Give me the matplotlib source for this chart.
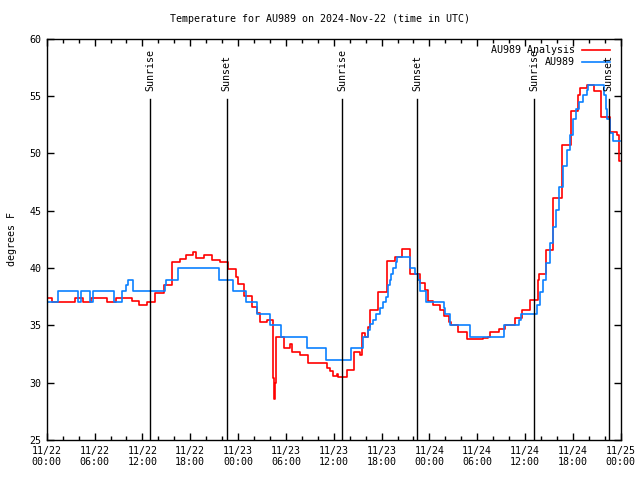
import matplotlib
matplotlib.use('Agg')
import matplotlib.pyplot as plt
from matplotlib.lines import Line2D

# hours since 2024-11-22 00:00 UTC
t_analysis = [0, 0.6, 3.6, 4.5, 5.5, 7.6, 8.7, 10.7, 11.6, 12.6,
              13.6, 14.7, 15.7, 16.7, 17.5, 18.4, 18.7, 19.7, 20.75, 21.7,
              22.75, 23.7, 24.0, 24.8, 25.7, 26.4, 26.7, 27.6, 28.4, 28.5,
              28.6, 28.7, 29.8, 30.5, 30.8, 31.8, 32.8, 35.1, 35.5, 35.9,
              36.35, 36.55, 37.6, 38.6, 39.3, 39.6, 39.9, 40.3, 40.6, 41.55,
              42.7, 43.7, 44.6, 45.6, 46.8, 47.4, 47.8, 48.5, 49.3, 49.8,
              50.5, 50.75, 51.6, 52.7, 54.7, 55.3, 55.55, 56.7, 57.5, 58.7,
              59.6, 60.65, 61.6, 61.7, 62.65, 63.55, 64.65, 65.8, 66.6, 66.9,
              67.8, 68.7, 69.55, 70.7, 71.5, 71.75, 71.85]
temp_analysis = [37.4, 37.0, 37.4, 37.0, 37.4, 37.0, 37.4, 37.1, 36.75, 37.0,
                 37.85, 38.5, 40.5, 40.8, 41.1, 41.4, 40.9, 41.1, 40.7, 40.5,
                 39.9, 39.25, 38.6, 37.6, 36.6, 36.1, 35.3, 35.5, 30.4, 28.6,
                 30.0, 34.0, 33.0, 33.4, 32.7, 32.4, 31.75, 31.3, 31.0, 30.6,
                 30.8, 30.5, 31.1, 32.7, 32.4, 34.3, 34.0, 34.9, 36.3, 37.9,
                 40.6, 41.0, 41.7, 39.5, 38.7, 38.1, 37.1, 36.8, 36.3, 35.8,
                 35.3, 35.0, 34.4, 33.8, 33.9, 34.0, 34.4, 34.7, 35.0, 35.6,
                 36.3, 37.2, 39.0, 39.5, 41.6, 46.1, 50.7, 53.7, 55.1, 55.7,
                 56.0, 55.45, 53.2, 51.9, 51.6, 49.3, 49.3]

t_obs = [0, 1.45, 3.9, 4.35, 5.4, 5.76, 8.4, 9.5, 9.9, 10.2,
         10.8, 14.8, 15.0, 16.5, 21.6, 23.4, 24.95, 26.4, 28.05, 29.4,
         32.6, 35.0, 38.1, 39.7, 40.3, 40.6, 40.9, 41.35, 41.8, 42.2,
         42.5, 42.8, 43.0, 43.2, 43.4, 43.8, 43.9, 45.6, 46.2, 46.6,
         46.8, 47.6, 49.85, 50.0, 50.6, 53.1, 57.3, 59.25, 59.45, 61.55,
         61.9, 62.2, 62.65, 63.1, 63.5, 63.9, 64.3, 64.7, 65.2, 65.6,
         66.0, 66.4, 66.8, 67.2, 67.7, 67.9, 69.9, 70.1, 70.3, 70.6,
         71.0, 71.2, 71.9]
temp_obs = [37, 38, 37, 38, 37, 38, 37, 38, 38.5, 39,
            38, 38.5, 39, 40, 39, 38, 37, 36, 35, 34,
            33, 32, 33, 34, 34.6, 35.1, 35.5, 36, 36.5, 37,
            37.5, 38.5, 39, 39.5, 40, 40.5, 41, 40, 39.5, 39,
            38, 37, 36.5, 36, 35, 34, 35, 35.5, 36, 36.8,
            37.9, 39, 40.4, 42.2, 43.6, 45.1, 47.1, 48.9, 50.3, 51.6,
            53.0, 53.9, 54.5, 55.1, 55.5, 56.0, 55.1, 53.9, 53.0, 51.8,
            51.1, 51.1, 51.1]

sun_times = [13.0, 22.55, 37.05, 46.45, 61.1, 70.5]
sun_labels = ['Sunrise', 'Sunset', 'Sunrise', 'Sunset', 'Sunrise', 'Sunset']

tick_hours = list(range(0, 73, 6))
tick_labels = ['11/22\n00:00', '11/22\n06:00', '11/22\n12:00', '11/22\n18:00',
               '11/23\n00:00', '11/23\n06:00', '11/23\n12:00', '11/23\n18:00',
               '11/24\n00:00', '11/24\n06:00', '11/24\n12:00', '11/24\n18:00',
               '11/25\n00:00']

red = '#ff0000'
blue = '#0a80ff'
fs = 7.2
mono = 'DejaVu Sans Mono'
plt.rcParams['font.family'] = mono

fig = plt.figure(figsize=(6.4, 4.8), dpi=100)
ax = fig.add_axes([0.073, 0.0833, 0.897, 0.836])

ax.plot(t_analysis, temp_analysis, drawstyle='steps-post', color=red, lw=1.2)
ax.plot(t_obs, temp_obs, drawstyle='steps-post', color=blue, lw=1.2)

for t, lab in zip(sun_times, sun_labels):
    ax.axvline(t, ymin=0, ymax=0.851, color='black', lw=1)
    ax.text(t, 55.4, lab, rotation=90, ha='center', va='bottom', fontsize=fs)

ax.set_xlim(0, 72)
ax.set_ylim(25, 60)
ax.set_xticks(tick_hours)
ax.set_xticklabels(tick_labels)
ax.set_xticks(range(0, 73, 2), minor=True)
ax.set_yticks(range(25, 61, 5))
ax.tick_params(which='both', direction='in', top=True, right=True,
               labelsize=fs, width=1)
ax.tick_params(which='major', length=5, pad=4)
ax.tick_params(which='minor', length=3)
for s in ax.spines.values():
    s.set_linewidth(1)

ax.set_ylabel('degrees F', fontsize=fs, labelpad=9)
fig.text(0.5, 0.96, 'Temperature for AU989 on 2024-Nov-22 (time in UTC)',
         ha='center', va='center', fontsize=fs)

# legend, drawn by hand so the labels are right aligned like gnuplot
for row, (lab, col) in enumerate([('AU989 Analysis', red), ('AU989', blue)]):
    yy = 0.9726 - row * 0.0315
    ax.text(0.920, yy, lab, transform=ax.transAxes, ha='right', va='center',
            fontsize=fs)
    ax.add_line(Line2D([0.932, 0.981], [yy, yy], transform=ax.transAxes,
                       color=col, lw=1.2))

fig.savefig('out.png', dpi=100)
